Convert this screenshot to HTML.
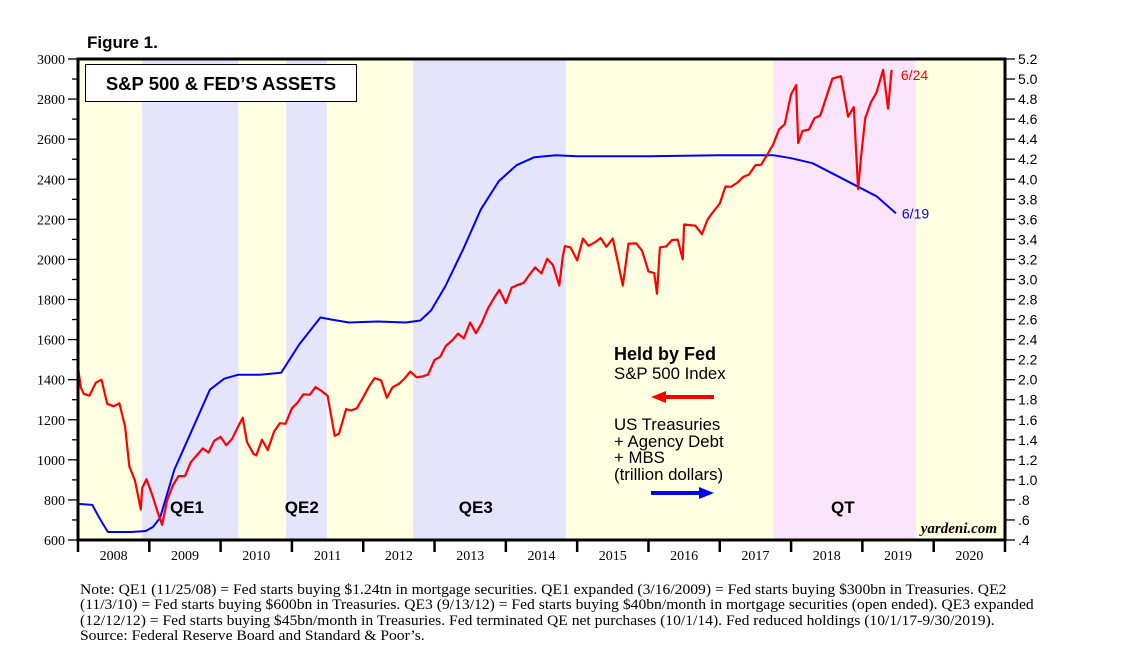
<!DOCTYPE html>
<html><head><meta charset="utf-8">
<style>
body{margin:0;background:#fff;width:1138px;height:658px;overflow:hidden;font-family:"Liberation Sans",sans-serif}
svg{position:absolute;left:0;top:0}
.note{position:absolute;left:80px;top:583px;white-space:nowrap;font:14.2px/15.3px "Liberation Serif",serif;color:#000;transform:scaleX(1.1);transform-origin:0 0}
</style></head><body>
<svg id="c" width="1138" height="658"></svg>
<div class="note">Note: QE1 (11/25/08) = Fed starts buying $1.24tn in mortgage securities. QE1 expanded (3/16/2009) = Fed starts buying $300bn in Treasuries. QE2<br>(11/3/10) = Fed starts buying $600bn in Treasuries. QE3 (9/13/12) = Fed starts buying $40bn/month in mortgage securities (open ended). QE3 expanded<br>(12/12/12) = Fed starts buying $45bn/month in Treasuries. Fed terminated QE net purchases (10/1/14). Fed reduced holdings (10/1/17-9/30/2019).<br>Source: Federal Reserve Board and Standard &amp; Poor’s.</div>
<script>
const years=[2008,2009,2010,2011,2012,2013,2014,2015,2016,2017,2018,2019,2020];
const leftTicks=[600,800,1000,1200,1400,1600,1800,2000,2200,2400,2600,2800,3000];
const rightTicks=[".4",".6",".8","1.0","1.2","1.4","1.6","1.8","2.0","2.2","2.4","2.6","2.8","3.0","3.2","3.4","3.6","3.8","4.0","4.2","4.4","4.6","4.8","5.0","5.2"];
const bandStarts=[2008.90,2010.92,2012.70,2017.75];
const bandEnds=[2010.25,2011.49,2014.84,2019.75];
const bandLabels=["QE1","QE2","QE3","QT"];
const spDates=[2008.0,2008.04,2008.08,2008.16,2008.25,2008.33,2008.41,2008.5,2008.58,2008.66,2008.72,2008.8,2008.88,2008.9,2008.96,2009.04,2009.12,2009.18,2009.25,2009.33,2009.41,2009.5,2009.58,2009.66,2009.75,2009.83,2009.91,2010.0,2010.08,2010.16,2010.25,2010.31,2010.37,2010.46,2010.5,2010.58,2010.66,2010.75,2010.83,2010.91,2011.0,2011.08,2011.16,2011.25,2011.33,2011.41,2011.5,2011.6,2011.66,2011.76,2011.83,2011.91,2012.0,2012.08,2012.16,2012.25,2012.33,2012.41,2012.5,2012.58,2012.66,2012.75,2012.83,2012.91,2013.0,2013.08,2013.16,2013.25,2013.33,2013.41,2013.5,2013.58,2013.66,2013.75,2013.83,2013.91,2014.0,2014.08,2014.16,2014.25,2014.33,2014.41,2014.5,2014.58,2014.66,2014.75,2014.8,2014.83,2014.91,2015.0,2015.08,2015.16,2015.25,2015.33,2015.41,2015.5,2015.58,2015.64,2015.66,2015.72,2015.83,2015.91,2016.0,2016.08,2016.12,2016.16,2016.25,2016.33,2016.41,2016.48,2016.5,2016.58,2016.66,2016.75,2016.83,2016.91,2017.0,2017.08,2017.16,2017.25,2017.33,2017.41,2017.5,2017.58,2017.66,2017.75,2017.83,2017.91,2018.0,2018.07,2018.1,2018.16,2018.25,2018.33,2018.41,2018.5,2018.58,2018.7,2018.8,2018.88,2018.94,2018.98,2019.04,2019.12,2019.2,2019.29,2019.36,2019.41,2019.47];
const spValues=[1460,1360,1330,1320,1385,1400,1280,1267,1282,1166,968,896,752,860,903,825,735,676,797,872,919,919,987,1020,1057,1036,1095,1115,1073,1104,1169,1210,1089,1030,1022,1101,1049,1141,1183,1180,1257,1286,1327,1325,1363,1345,1320,1120,1131,1253,1246,1257,1312,1365,1408,1397,1310,1362,1379,1406,1440,1412,1416,1426,1498,1514,1569,1597,1630,1606,1685,1632,1681,1756,1805,1848,1782,1859,1872,1883,1923,1960,1930,2003,1972,1870,2018,2067,2059,1995,2104,2068,2086,2107,2063,2104,1972,1870,1920,2079,2080,2044,1940,1932,1829,2060,2065,2097,2099,2000,2174,2171,2168,2126,2199,2239,2279,2364,2363,2384,2412,2423,2470,2472,2519,2575,2648,2674,2824,2870,2581,2641,2648,2705,2718,2816,2902,2914,2712,2760,2351,2507,2704,2784,2834,2946,2752,2945];
const fedDates=[2008.0,2008.2,2008.3,2008.42,2008.55,2008.75,2008.95,2009.05,2009.15,2009.35,2009.6,2009.85,2010.05,2010.25,2010.55,2010.85,2011.1,2011.4,2011.55,2011.8,2012.2,2012.6,2012.8,2012.95,2013.15,2013.4,2013.65,2013.9,2014.15,2014.4,2014.7,2015.0,2016.0,2017.0,2017.75,2018.0,2018.3,2018.6,2018.9,2019.2,2019.47];
const fedValues=[0.76,0.75,0.62,0.48,0.48,0.48,0.49,0.53,0.62,1.10,1.50,1.90,2.01,2.05,2.05,2.07,2.35,2.62,2.60,2.57,2.58,2.57,2.59,2.69,2.93,3.30,3.70,3.98,4.14,4.22,4.24,4.23,4.23,4.24,4.24,4.21,4.16,4.05,3.94,3.83,3.66];
const NS="http://www.w3.org/2000/svg";
const svg=document.getElementById('c');
const L=78,R=1005,T=59,B=540;
const xs=d=>L+(d-2008)*(R-L)/13;
const yl=v=>B-(v-600)*(B-T)/2400;
const yr=v=>B-(v-0.4)*(B-T)/4.8;
function mk(t,a,p){const e=document.createElementNS(NS,t);for(const k in a)e.setAttribute(k,a[k]);(p||svg).appendChild(e);return e;}
let bg=mk('rect',{x:L,y:T,width:R-L,height:B-T,fill:'#ffffe2'});


for(let i=0;i<bandStarts.length;i++){
  const r=mk('rect',{x:xs(bandStarts[i]),y:T,width:xs(bandEnds[i])-xs(bandStarts[i]),height:B-T,fill:i==3?'#fce4fc':'#e4e4fc'});
  
  
}
const lblX=[2009.29,2010.90,2013.34,2018.56];
for(let i=0;i<bandLabels.length;i++){
  const t=mk('text',{x:xs(lblX[i]),y:513,'font-size':17,'font-weight':'bold','font-family':'Liberation Sans,sans-serif'});
  t.textContent=bandLabels[i];
  
  
}
for(let v=600;v<=3000;v+=100){const y=yl(v);mk('line',{x1:L-(v%200?6:10),x2:L,y1:y,y2:y,stroke:'#000','stroke-width':1.3});}
leftTicks.forEach(v=>{const t=mk('text',{x:L-13,y:yl(v)+5,'text-anchor':'end','font-size':14,'font-family':'Liberation Serif,serif'});t.textContent=v;

});
rightTicks.forEach((s,i)=>{const y=yr(0.4+i*0.2);mk('line',{x1:R,x2:R+10,y1:y,y2:y,stroke:'#000','stroke-width':1.3});
const t=mk('text',{x:R+13,y:y+5,'font-size':14,'font-family':'Liberation Sans,sans-serif'});t.textContent=s;

});
years.forEach(yv=>{const x=xs(yv);mk('line',{x1:x,x2:x,y1:B,y2:B+12,stroke:'#000','stroke-width':2.5});
const t=mk('text',{x:xs(yv+0.5),y:560,'text-anchor':'middle','font-size':14,'font-family':'Liberation Serif,serif'});t.textContent=yv;

});
mk('line',{x1:R,x2:R,y1:B,y2:B+12,stroke:'#000','stroke-width':2.5});
let fp=fedDates.map((d,i)=>xs(d).toFixed(1)+','+yr(fedValues[i]).toFixed(1)).join(' ');
const fl=mk('polyline',{points:fp,fill:'none',stroke:'#0000ff','stroke-width':2,'stroke-linejoin':'round'});


let sp=spDates.map((d,i)=>xs(d).toFixed(1)+','+yl(spValues[i]).toFixed(1)).join(' ');
const sl=mk('polyline',{points:sp,fill:'none',stroke:'#ff0000','stroke-width':2.2,'stroke-linejoin':'round'});


mk('rect',{x:L,y:T,width:R-L,height:B-T,fill:'none',stroke:'#000','stroke-width':3});
let e1=mk('text',{x:xs(spDates[spDates.length-1])+5,y:yl(spValues[spValues.length-1])+10,fill:'#ff0000','font-size':14});e1.textContent='6/24';


let e2=mk('text',{x:xs(fedDates[fedDates.length-1])+6,y:yr(fedValues[fedValues.length-1])+5,fill:'#0000ff','font-size':14});e2.textContent='6/19';


let fg=mk('text',{x:87,y:48,'font-size':17,'font-weight':'bold'});fg.textContent='Figure 1.';


mk('rect',{x:85.5,y:64.5,width:271,height:37,fill:'#fff',stroke:'#000','stroke-width':1});
let tt=mk('text',{x:221,y:90,'text-anchor':'middle','font-size':18.5,'font-weight':'bold'});tt.textContent='S&P 500 & FED’S ASSETS';


const lg=[['Held by Fed',360,'bold',18],['S&P 500 Index',379,'normal',16.8],['US Treasuries',430,'normal',16.8],['+ Agency Debt',447,'normal',16.8],['+ MBS',463,'normal',16.8],['(trillion dollars)',480,'normal',16.8]];
lg.forEach(a=>{const t=mk('text',{x:614,y:a[1],'font-size':a[3],'font-weight':a[2]});t.textContent=a[0];

});
mk('line',{x1:660,x2:714,y1:397,y2:397,stroke:'#ff0000','stroke-width':4});
mk('polygon',{points:'651,397 666,391 666,403',fill:'#ff0000'});
mk('line',{x1:651,x2:704,y1:493,y2:493,stroke:'#0000ff','stroke-width':4});
mk('polygon',{points:'714,493 699,487 699,499',fill:'#0000ff'});
let yd=mk('text',{x:997,y:533,'text-anchor':'end','font-size':15,'font-style':'italic','font-weight':'bold','font-family':'Liberation Serif,serif'});yd.textContent='yardeni.com';


</script>
</body></html>
